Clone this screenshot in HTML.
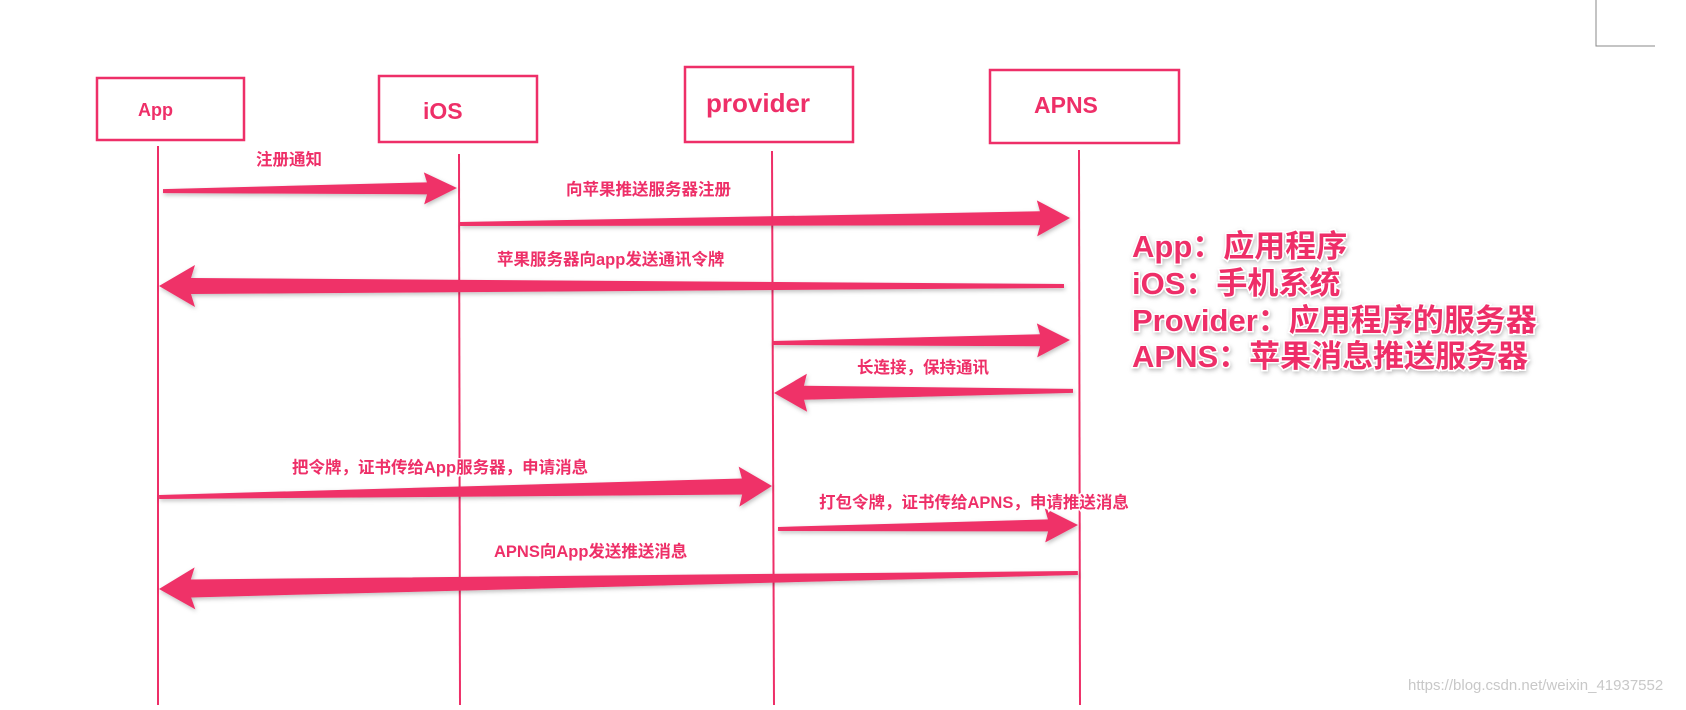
<!DOCTYPE html>
<html><head><meta charset="utf-8"><style>
html,body{margin:0;padding:0;background:#fff;}
body{width:1686px;height:705px;overflow:hidden;}
svg text{font-family:"Liberation Sans","Noto Sans CJK SC",sans-serif;font-weight:bold;fill:#ee2f68;}
.lbl{font-size:16.5px;paint-order:stroke;stroke:#fff;stroke-width:3px;}
.ttl{paint-order:stroke;stroke:#fff;stroke-width:2px;}
.leg{font-size:31px;paint-order:stroke;stroke:#fff;stroke-width:3px;}
</style></head><body>
<svg width="1686" height="705" viewBox="0 0 1686 705" xmlns="http://www.w3.org/2000/svg">
<defs>
<filter id="sh" x="-5%" y="-50%" width="110%" height="200%"><feDropShadow dx="1" dy="2" stdDeviation="2" flood-color="#000" flood-opacity="0.25"/></filter>
</defs>
<path d="M1596 0 V46 H1655" fill="none" stroke="#888" stroke-width="1"/>
<g fill="none" stroke="#ee2f68" stroke-width="2.5">
<rect x="97" y="78" width="147" height="62"/>
<rect x="379" y="76" width="158" height="66"/>
<rect x="685" y="67" width="168" height="75"/>
<rect x="990" y="70" width="189" height="73"/>
</g>
<g stroke="#ee2f68" stroke-width="2">
<line x1="158" y1="146" x2="158" y2="705"/>
<line x1="459" y1="154" x2="460" y2="705"/>
<line x1="772" y1="151" x2="774" y2="705"/>
<line x1="1079" y1="150" x2="1080" y2="705"/>
</g>
<text class="ttl" x="138" y="116" font-size="18">App</text>
<text class="ttl" x="423" y="119" font-size="23">iOS</text>
<text class="ttl" x="706" y="112" font-size="26">provider</text>
<text class="ttl" x="1034" y="113" font-size="23">APNS</text>
<g fill="#ef3068" filter="url(#sh)">
<g transform="translate(457,188) rotate(-0.6)"><path d="M-294,-2 L-30,-6 L-33,-16 L0,0 L-33,16 L-30,6 L-294,2 Z"/></g>
<g transform="translate(1070,218) rotate(-0.56)"><path d="M-610,-2 L-30,-7 L-33,-18 L0,0 L-33,18 L-30,7 L-610,2 Z"/></g>
<g transform="translate(159,286) rotate(180)"><path d="M-905,-2 L-32,-8 L-36,-21 L0,0 L-36,21 L-32,8 L-905,2 Z"/></g>
<g transform="translate(1070,340) rotate(-0.58)"><path d="M-298,-2 L-30,-6 L-33,-17 L0,0 L-33,17 L-30,6 L-298,2 Z"/></g>
<g transform="translate(774,393) rotate(179.6)"><path d="M-299,-2 L-30,-7 L-33,-19 L0,0 L-33,19 L-30,7 L-299,2 Z"/></g>
<g transform="translate(772,486) rotate(-1.03)"><path d="M-613,-2 L-30,-8 L-33,-20 L0,0 L-33,20 L-30,8 L-613,2 Z"/></g>
<g transform="translate(1078,525) rotate(-0.76)"><path d="M-300,-2 L-30,-6 L-33,-17 L0,0 L-33,17 L-30,6 L-300,2 Z"/></g>
<g transform="translate(159,589) rotate(179)"><path d="M-919,-2 L-32,-9 L-36,-21 L0,0 L-36,21 L-32,9 L-919,2 Z"/></g>
</g>
<text class="lbl" x="256" y="165">注册通知</text>
<text class="lbl" x="566" y="195">向苹果推送服务器注册</text>
<text class="lbl" x="497" y="265">苹果服务器向app发送通讯令牌</text>
<text class="lbl" x="857" y="373">长连接，保持通讯</text>
<text class="lbl" x="292" y="473">把令牌，证书传给App服务器，申请消息</text>
<text class="lbl" x="819" y="508">打包令牌，证书传给APNS，申请推送消息</text>
<text class="lbl" x="494" y="557">APNS向App发送推送消息</text>
<g filter="url(#sh)">
<text class="leg" x="1132" y="257">App：应用程序</text>
<text class="leg" x="1132" y="294">iOS：手机系统</text>
<text class="leg" x="1132" y="331">Provider：应用程序的服务器</text>
<text class="leg" x="1132" y="367">APNS：苹果消息推送服务器</text>
</g>
<text x="1408" y="690" font-size="15" style="font-weight:normal;fill:#c8c8c8">https://blog.csdn.net/weixin_41937552</text>
</svg>
</body></html>
